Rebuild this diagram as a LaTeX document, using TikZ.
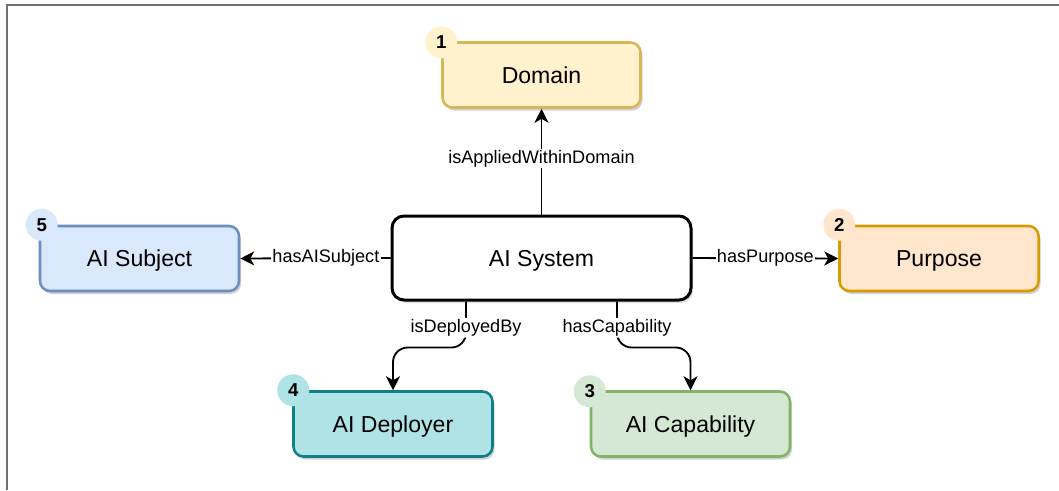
\documentclass[tikz,border=0pt]{standalone}
\usepackage{fontspec}
\setmainfont{Liberation Sans}
\usetikzlibrary{arrows.meta,shadows,calc}

\definecolor{domfill}{HTML}{FFF2CC}\definecolor{domline}{HTML}{D6B656}
\definecolor{purfill}{HTML}{FFE6CC}\definecolor{purline}{HTML}{D79B00}
\definecolor{capfill}{HTML}{D5E8D4}\definecolor{capline}{HTML}{82B366}
\definecolor{depfill}{HTML}{B0E3E6}\definecolor{depline}{HTML}{0E8088}
\definecolor{subfill}{HTML}{DAE8FC}\definecolor{subline}{HTML}{6C8EBF}
\definecolor{framegray}{HTML}{707070}

\begin{document}
\begin{tikzpicture}[x=0.75pt,y=-0.75pt,
  box/.style={draw, rounded corners=7.5pt, line width=1.9pt,
    minimum width=149.25pt, minimum height=48.75pt, inner sep=0pt,
    text height=12.3pt, text depth=0pt,
    font=\fontsize{17.3}{20}\selectfont,
    drop shadow={shadow xshift=1.5pt, shadow yshift=-2.25pt, opacity=0.18, fill=black}},
  core/.style={draw=black, fill=white, rounded corners=9pt, line width=2.25pt,
    minimum width=224.25pt, minimum height=63pt, inner sep=0pt,
    text height=12.3pt, text depth=0pt,
    font=\fontsize{17.3}{20}\selectfont,
    drop shadow={shadow xshift=1.5pt, shadow yshift=-2.25pt, opacity=0.12, fill=black}},
  badge/.style={circle, inner sep=0pt, minimum size=24pt,
    font=\bfseries\fontsize{14}{16}\selectfont},
  lbl/.style={fill=white, inner sep=1pt, font=\fontsize{13.6}{15}\selectfont},
  conn/.style={line width=1.4pt, -{Stealth[length=10.5pt, width=10.5pt, inset=3pt]}},
]
\useasboundingbox (0,0) rectangle (1059,490);

% outer frame
\draw[framegray, line width=1.5pt] (7,490) -- (7,5) -- (1059,5);

% central class
\node[core] (sys) at (541.5,258) {AI System};

% related classes
\node[box, draw=domline, fill=domfill, minimum width=148.5pt] (dom) at (541.5,75) {Domain};
\node[box, draw=purline, fill=purfill] (pur) at (939,258.5) {Purpose};
\node[box, draw=capline, fill=capfill] (cap) at (690.5,424) {AI Capability};
\node[box, draw=depline, fill=depfill] (dep) at (393,424) {AI Deployer};
\node[box, draw=subline, fill=subfill] (sub) at (139.5,258.5) {AI Subject};

% numbered badges
\node[badge, fill=domfill] (b1) at ($(dom.north west)+(0,1)$) {1};
\node[badge, fill=purfill] (b2) at ($(pur.north west)+(1,0)$) {2};
\node[badge, fill=capfill] (b3) at ($(cap.north west)+(0,1)$) {3};
\node[badge, fill=depfill] (b4) at ($(dep.north west)+(1,0)$) {4};
\node[badge, fill=subfill] (b5) at ($(sub.north west)+(3,0)$) {5};

% straight relations
\draw[conn] (sys.north) -- node[lbl, pos=0.53] {isAppliedWithinDomain} (dom.south);
\draw[conn] (sys.west) -- node[lbl, pos=0.43] {hasAISubject} (sub.east);
\draw[conn] (sys.east) -- node[lbl, pos=0.5] {hasPurpose} (pur.west);

% curved relations from the lower edge
\coordinate (sd) at ($(sys.south west)!0.25!(sys.south east)$);
\coordinate (sc) at ($(sys.south west)!0.75!(sys.south east)$);
\draw[conn, rounded corners=11pt] (sd) -- node[lbl, pos=0.57] {isDeployedBy} ($(sd)+(0,46)$) -| (dep.north);
\draw[conn, rounded corners=11pt] (sc) -- node[lbl, pos=0.57] {hasCapability} ($(sc)+(0,46)$) -| (cap.north);
\end{tikzpicture}
\end{document}
